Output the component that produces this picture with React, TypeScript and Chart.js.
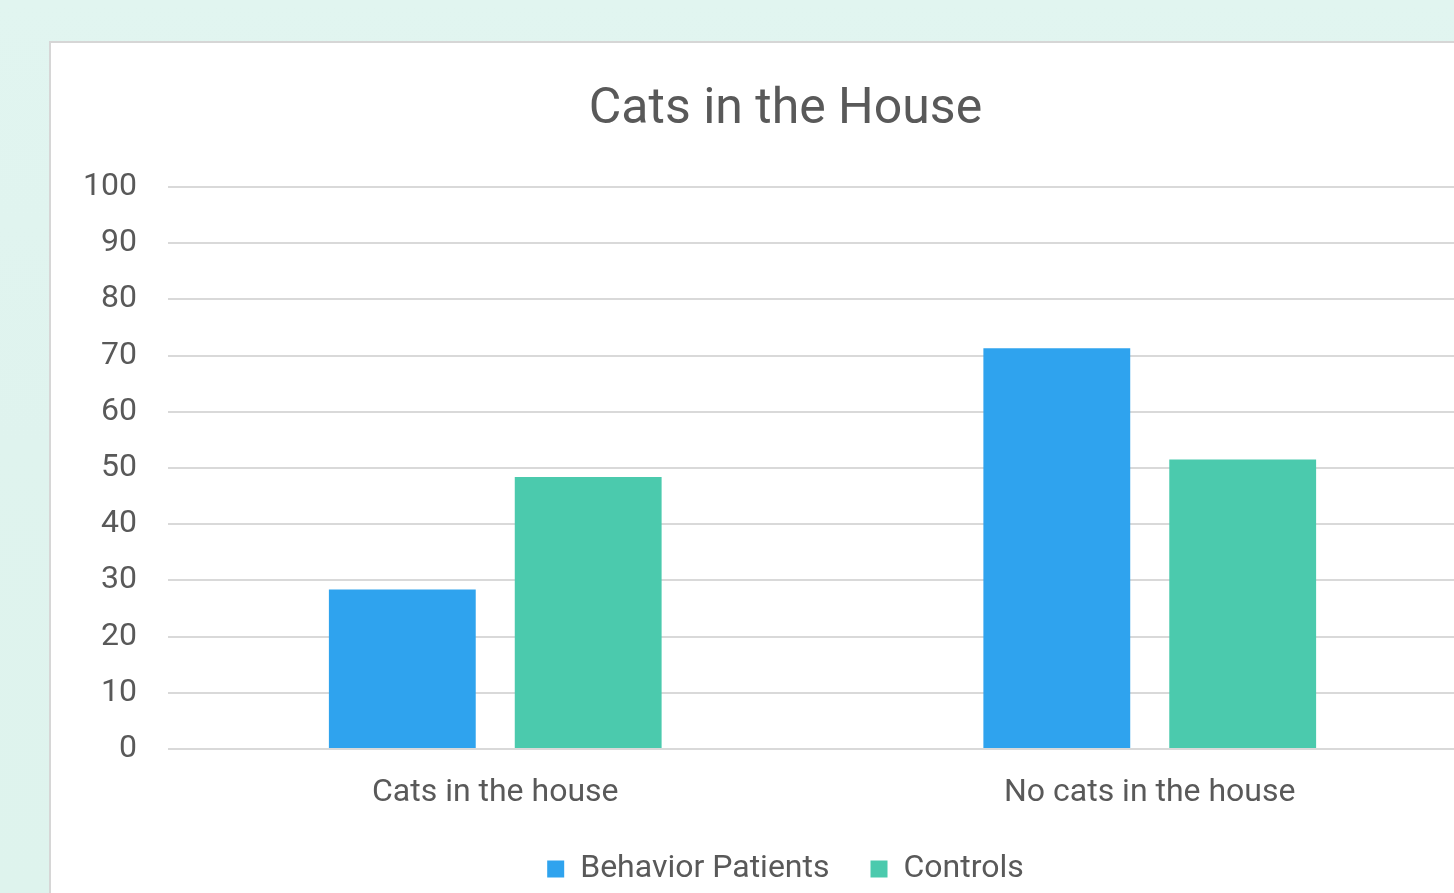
import React, { useEffect, useRef } from "react";
import { Chart, registerables } from "chart.js";

Chart.register(...registerables);

const chartTitle = "Cats in the House";
const categories = ["Cats in the house", "No cats in the house"];
const seriesNames = ["Behavior Patients", "Controls"];
const behaviorPatients = [28.4, 71.3];
const controls = [48.4, 51.5];
const yMin = 0;
const yMax = 100;
const yStep = 10;

const FONT = "Roboto";
const TEXT = "#595959";

export default function App() {
  const ref = useRef<HTMLCanvasElement | null>(null);

  useEffect(() => {
    if (!ref.current) return;
    const chart = new Chart(ref.current, {
      type: "bar",
      data: {
        labels: categories,
        datasets: [
          {
            label: seriesNames[0],
            data: behaviorPatients,
            backgroundColor: "#2FA3EE",
            borderWidth: 0,
            yAxisID: "y",
          },
          {
            label: seriesNames[1],
            data: controls,
            backgroundColor: "#4BCAAD",
            borderWidth: 0,
            yAxisID: "y",
          },
        ],
      },
      options: {
        responsive: false,
        animation: false,
        devicePixelRatio: 1,
        layout: { padding: 0 },
        datasets: {
          bar: { categoryPercentage: 0.568, barPercentage: 0.79 },
        },
        plugins: {
          tooltip: { enabled: false },
          title: {
            display: true,
            text: chartTitle,
            color: TEXT,
            font: { family: FONT, size: 50, weight: "normal", lineHeight: 1.2 },
            padding: { top: 38, bottom: 47 },
          },
          legend: {
            display: true,
            position: "bottom",
            labels: {
              color: TEXT,
              font: { family: FONT, size: 32, lineHeight: 1.2 },
              boxWidth: 17,
              boxHeight: 17,
              padding: 41,
            },
          },
        },
        scales: {
          x: {
            grid: { display: false, drawTicks: false },
            border: { display: false },
            ticks: {
              color: TEXT,
              font: { family: FONT, size: 32, lineHeight: 1.2 },
              padding: 25,
            },
            afterFit: (s: any) => {
              s.height = 63;
            },
          },
          y: {
            position: "left",
            min: yMin,
            max: yMax,
            grid: { color: "#d9d9d9", lineWidth: 2, drawTicks: false },
            border: { display: false },
            ticks: {
              stepSize: yStep,
              color: TEXT,
              font: { family: FONT, size: 32, lineHeight: 1.2 },
              padding: 31,
            },
            afterFit: (s: any) => {
              s.width = 118;
            },
          },
          yRight: {
            position: "right",
            display: true,
            grid: { display: false, drawTicks: false },
            border: { display: false },
            ticks: { display: false },
            afterFit: (s: any) => {
              s.width = 44;
            },
          },
        },
      },
    } as any);
    return () => chart.destroy();
  }, []);

  return (
    <div
      style={{
        position: "fixed",
        left: 0,
        top: 0,
        width: 1454,
        height: 893,
        overflow: "hidden",
        background: "linear-gradient(180deg, #e1f5f0 0%, #dff3ee 50%, #def3ed 100%)",
      }}
    >
      <div
        style={{
          position: "absolute",
          left: 49,
          top: 41,
          width: 1480,
          height: 900,
          background: "#ffffff",
          borderLeft: "2px solid #d6d6d6",
          borderTop: "2px solid #d6d6d6",
        }}
      >
        <canvas
          ref={ref}
          width={1471}
          height={853}
          style={{ position: "absolute", left: -1, top: -1, width: 1471, height: 853 }}
        />
      </div>
    </div>
  );
}
